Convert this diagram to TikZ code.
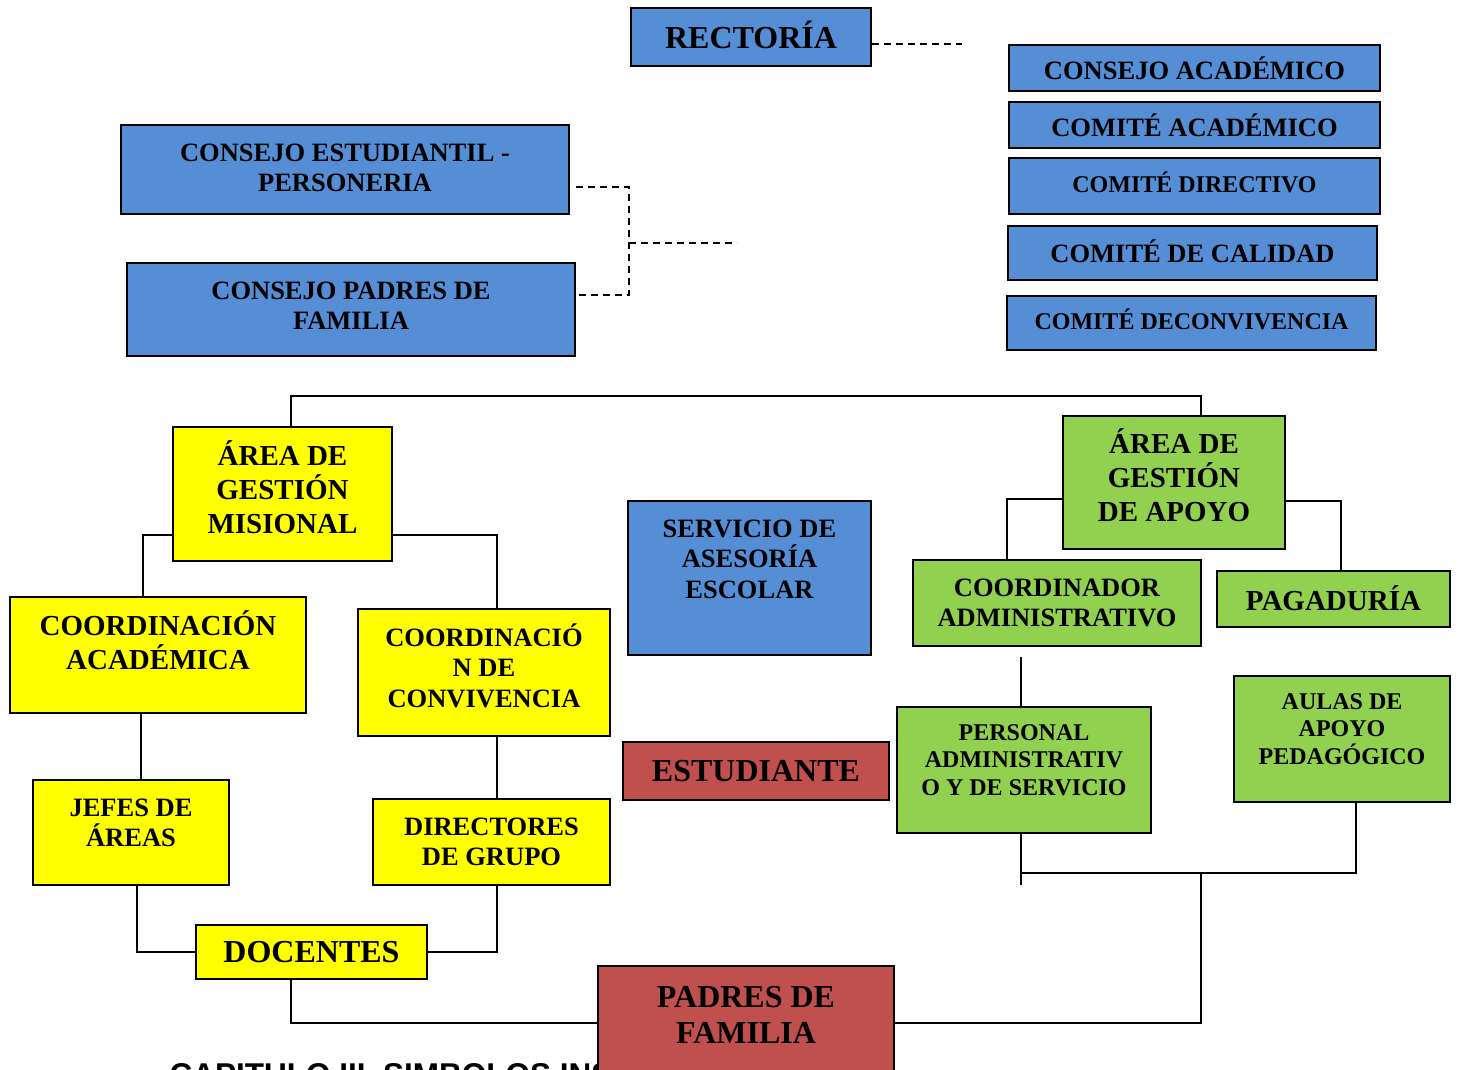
\documentclass[tikz,border=0pt]{standalone}
\usepackage{fontspec}
\setmainfont{Liberation Serif}
\newfontfamily\arialfont{Liberation Sans}
\usetikzlibrary{calc,positioning,backgrounds}
\definecolor{azul}{HTML}{558ED5}
\definecolor{amarillo}{HTML}{FFFF00}
\definecolor{verde}{HTML}{92D050}
\definecolor{rojo}{HTML}{C0504D}

\begin{document}
\begin{tikzpicture}[
    x=1pt, y=-1pt,
    caja/.style={draw, line width=1.8pt, inner sep=0pt, align=center},
    fa/.style={font=\fontsize{32}{36}\selectfont\bfseries},
    fb/.style={font=\fontsize{29}{34}\selectfont\bfseries},
    fc/.style={font=\fontsize{26.5}{30.5}\selectfont\bfseries},
    fd/.style={font=\fontsize{24}{27.5}\selectfont\bfseries},
    linea/.style={line width=1.6pt},
    guion/.style={line width=1.8pt, dash pattern=on 7pt off 5pt}
]
\useasboundingbox (0,0) rectangle (1458,1070);

\node[caja, fa, fill=azul, minimum width=240, minimum height=58, text depth=4pt] (rectoria) at (751,37) {RECTORÍA};
\node[caja, fc, fill=azul, minimum width=371, minimum height=46] (consejoacad) at (1194.5,68) {CONSEJO ACADÉMICO};
\node[caja, fc, fill=azul, minimum width=371, minimum height=46] (comiteacad) at (1194.5,125) {COMITÉ ACADÉMICO};
\node[caja, fd, fill=azul, minimum width=371, minimum height=56, text depth=8pt] (comitedir) at (1194.5,186) {COMITÉ DIRECTIVO};
\node[caja, fc, fill=azul, minimum width=369, minimum height=54, text depth=3pt] (comitecal) at (1192.5,253) {COMITÉ DE CALIDAD};
\node[caja, fd, fill=azul, minimum width=369, minimum height=54, text depth=8pt] (comiteconv) at (1191.5,323) {COMITÉ DECONVIVENCIA};
\node[caja, fc, fill=azul, minimum width=448, minimum height=89, text depth=4pt] (estudiantil) at (345,169.5) {CONSEJO ESTUDIANTIL -\\PERSONERIA};
\node[caja, fc, fill=azul, minimum width=448, minimum height=93, text depth=8pt] (consejopadres) at (351,309.5) {CONSEJO PADRES DE\\FAMILIA};

\coordinate (rfin) at (962,44);
\coordinate (cjunta) at (629,243);
\coordinate (cfin) at (737,243);
\draw[guion] (rfin -| rectoria.east) -- (rfin);
\draw[guion] ([xshift=6pt,yshift=-17.5pt]estudiantil.east) -| (cjunta) |- ([yshift=14.5pt]consejopadres.east);
\draw[guion] (cjunta) -- (cfin);

\node[caja, fb, fill=amarillo, minimum width=219, minimum height=134, text depth=14pt] (misional) at (282.5,494) {ÁREA DE\\GESTIÓN\\MISIONAL};
\node[caja, fb, fill=amarillo, minimum width=296, minimum height=116, text depth=30pt] (coordacad) at (158,655) {COORDINACIÓN\\ACADÉMICA};
\node[caja, fc, fill=amarillo, minimum width=252, minimum height=127, text depth=14pt] (convivencia) at (484,672.5) {COORDINACIÓ\\N DE\\CONVIVENCIA};
\node[caja, fc, fill=azul, minimum width=243, minimum height=154, text depth=38pt] (servicio) at (749.5,578) {SERVICIO DE\\ASESORÍA\\ESCOLAR};
\node[caja, fa, fill=rojo, minimum width=266, minimum height=58] (estudiante) at (756,771) {ESTUDIANTE};
\node[caja, fc, fill=amarillo, minimum width=196, minimum height=105, text depth=20pt] (jefes) at (131,832.5) {JEFES DE\\ÁREAS};
\node[caja, fc, fill=amarillo, minimum width=237, minimum height=86] (directores) at (491.5,842) {DIRECTORES\\DE GRUPO};
\node[caja, fa, fill=amarillo, minimum width=231, minimum height=54, text depth=-4pt] (docentes) at (311.5,952) {DOCENTES};
\node[caja, fa, fill=rojo, minimum width=296, minimum height=114, text depth=16pt] (padresfam) at (746,1023) {PADRES DE\\FAMILIA};
\node[caja, fb, fill=verde, minimum width=222, minimum height=133, text depth=14pt] (apoyo) at (1174,482.5) {ÁREA DE\\GESTIÓN\\DE APOYO};
\node[caja, fc, fill=verde, minimum width=288, minimum height=86] (coordadm) at (1057,603) {COORDINADOR\\ADMINISTRATIVO};
\node[caja, fb, fill=verde, minimum width=233, minimum height=56, text depth=2pt] (pagaduria) at (1333.5,599) {PAGADURÍA};
\node[caja, fd, fill=verde, minimum width=254, minimum height=126, text depth=20pt] (personal) at (1024,770) {PERSONAL\\ADMINISTRATIV\\O Y DE SERVICIO};
\node[caja, fd, fill=verde, minimum width=216, minimum height=126, text depth=20pt] (aulas) at (1342,739) {AULAS DE\\APOYO\\PEDAGÓGICO};

\begin{scope}[on background layer]
\node[anchor=base west, font=\fontsize{31.5}{36}\selectfont\arialfont\bfseries] (capitulo) at (166,1085) {CAPITULO III. SIMBOLOS INSTITUCIONALES};
\end{scope}

\coordinate (cbase) at (1201,873);
\draw[linea] ([xshift=8.5pt]misional.north) -- ++(0,-30) -| ([xshift=27pt]apoyo.north);
\draw[linea] ([yshift=-41pt]misional.west) -| ([xshift=-15pt]coordacad.north);
\draw[linea] ([yshift=-41pt]misional.east) -| ([xshift=13pt]convivencia.north);
\draw[linea] ([xshift=-17pt]coordacad.south) -- ([xshift=-17pt]coordacad.south |- jefes.north);
\draw[linea] ([xshift=13pt]convivencia.south) -- ([xshift=13pt]convivencia.south |- directores.north);
\draw[linea] ([xshift=6pt]jefes.south) |- (docentes.west);
\draw[linea] ([xshift=5.5pt]directores.south) |- (docentes.east);
\draw[linea] ([xshift=-20.5pt]docentes.south) |- (padresfam.west);
\draw[linea] ([yshift=-16.5pt]apoyo.west) -| ([xshift=-50pt]coordadm.north);
\draw[linea] ([yshift=-18.5pt]apoyo.east) -| ([xshift=7.5pt]pagaduria.north);
\draw[linea] ([xshift=-36pt,yshift=-10pt]coordadm.south) -- ([xshift=-36pt]coordadm.south |- personal.north);
\draw[linea] ([xshift=-3pt]personal.south) -- ++(0,51);
\draw[linea] ([xshift=-3pt]personal.south |- cbase) -| ([xshift=14pt]aulas.south);
\draw[linea] (padresfam.east) -| (cbase);
\end{tikzpicture}
\end{document}
